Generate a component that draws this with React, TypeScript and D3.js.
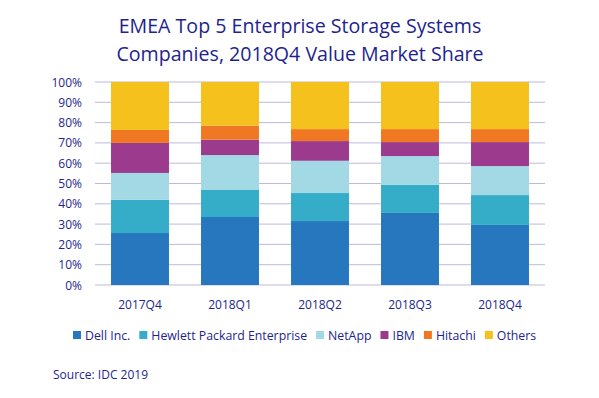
import React, { useEffect, useRef } from 'react';
import * as d3 from 'd3';

const quarters = ['2017Q4', '2018Q1', '2018Q2', '2018Q3', '2018Q4'];
const companies = ['Dell Inc.', 'Hewlett Packard Enterprise', 'NetApp', 'IBM', 'Hitachi', 'Others'];
const dell = [25.6, 33.5, 31.5, 35.5, 29.6];
const hpe = [16.4, 13.3, 13.8, 13.8, 14.7];
const netapp = [13.2, 17.2, 15.9, 14.2, 14.3];
const ibm = [14.8, 7.6, 9.7, 6.9, 11.8];
const hitachi = [6.4, 6.9, 5.9, 6.4, 6.4];
const others = [23.6, 21.5, 23.2, 23.2, 23.2];
const yTicks = [0, 10, 20, 30, 40, 50, 60, 70, 80, 90, 100];
const colors = ['#2677bd', '#35adc8', '#a2d9e5', '#9c3b8e', '#f07822', '#f5c11c'];

const App = () => {
    const ref = useRef<SVGSVGElement>(null);

    useEffect(() => {
        const svg = d3.select(ref.current);
        svg.selectAll('*').remove();

        const textColor = '#231f8e';
        const font = "'Open Sans', 'Noto Sans', sans-serif";
        const series = [dell, hpe, netapp, ibm, hitachi, others];

        // SCALES
        const x = d3.scaleBand().domain(quarters).range([95, 545]).paddingInner(0.356).paddingOuter(0.178);
        const y = d3.scaleLinear().domain([0, 100]).range([285, 82]);

        // TITLE
        const title = svg.append('text')
            .attr('text-anchor', 'middle')
            .attr('fill', textColor)
            .style('font-family', font)
            .style('font-size', '19.6px');
        title.append('tspan').attr('x', 300).attr('y', 33).text('EMEA Top 5 Enterprise Storage Systems');
        title.append('tspan').attr('x', 300).attr('y', 61).text('Companies, 2018Q4 Value Market Share');

        // GRIDLINES
        svg.append('g').selectAll('line')
            .data(yTicks)
            .enter().append('line')
            .attr('x1', 95).attr('x2', 545)
            .attr('y1', d => y(d)).attr('y2', d => y(d))
            .attr('stroke', '#bdbbdc')
            .attr('stroke-width', 1);

        // Y LABELS
        svg.append('g').selectAll('text')
            .data(yTicks)
            .enter().append('text')
            .attr('x', 82)
            .attr('y', d => y(d) + 4.5)
            .attr('text-anchor', 'end')
            .attr('fill', textColor)
            .style('font-family', font)
            .style('font-size', '12px')
            .text(d => d + '%');

        // STACKED BARS
        const rows = quarters.map((q, i) => {
            const row: any = { q };
            companies.forEach((c, j) => { row[c] = series[j][i]; });
            return row;
        });
        const stacked = d3.stack().keys(companies)(rows);

        svg.append('g').selectAll('g')
            .data(stacked)
            .enter().append('g')
            .attr('fill', (d, i) => colors[i])
            .selectAll('rect')
            .data(d => d)
            .enter().append('rect')
            .attr('x', d => x((d.data as any).q)!)
            .attr('width', x.bandwidth())
            .attr('y', d => y(Math.min(d[1], 100)))
            .attr('height', d => y(d[0]) - y(Math.min(d[1], 100)));

        // X LABELS
        svg.append('g').selectAll('text')
            .data(quarters)
            .enter().append('text')
            .attr('x', d => x(d)! + x.bandwidth() / 2)
            .attr('y', 309)
            .attr('text-anchor', 'middle')
            .attr('fill', textColor)
            .style('font-family', font)
            .style('font-size', '12px')
            .text(d => d);

        // LEGEND
        const legend = svg.append('g');
        let lx = 73;
        companies.forEach((c, i) => {
            legend.append('rect')
                .attr('x', lx).attr('y', 331)
                .attr('width', 8).attr('height', 8)
                .attr('fill', colors[i]);
            const t = legend.append('text')
                .attr('x', lx + 12)
                .attr('y', 340)
                .attr('fill', textColor)
                .style('font-family', font)
                .style('font-size', '12.3px')
                .text(c);
            const w = (t.node() as SVGTextElement).getComputedTextLength();
            lx += 12 + w + 9;
        });

        // SOURCE
        svg.append('text')
            .attr('x', 53)
            .attr('y', 379)
            .attr('fill', textColor)
            .style('font-family', font)
            .style('font-size', '12px')
            .text('Source: IDC 2019');
    }, []);

    return (
        <svg ref={ref} width={599} height={398}
            style={{ position: 'absolute', left: 0, top: 0, background: '#fff' }} />
    );
};

export default App;
